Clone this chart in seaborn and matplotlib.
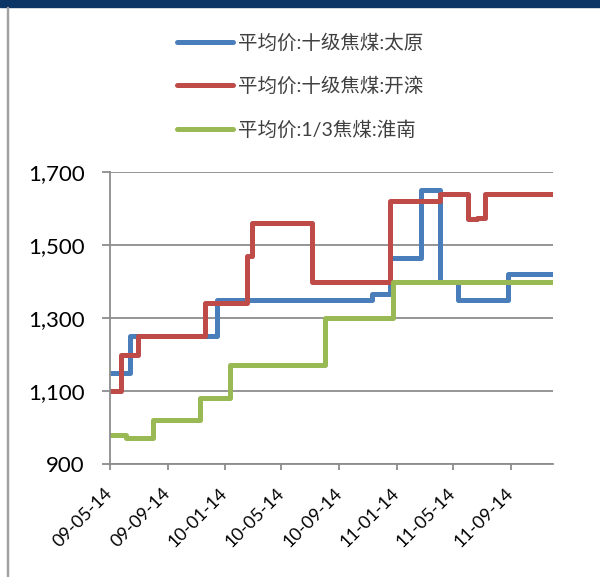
import pandas as pd
import matplotlib.pyplot as plt
import matplotlib.dates as mdates
import matplotlib.ticker as mticker
from matplotlib.patches import Rectangle
from matplotlib.lines import Line2D
import seaborn as sns

# step data: date where the price changes, and the new price
taiyuan_dates = ["2009-05-14", "2009-06-25", "2009-12-27", "2010-11-22", "2010-12-31",
                 "2011-03-07", "2011-04-17", "2011-05-25", "2011-09-09", "2011-12-13"]
taiyuan_vals = [1150, 1250, 1350, 1365, 1465, 1650, 1400, 1350, 1420, 1420]

kailuan_dates = ["2009-05-14", "2009-06-06", "2009-07-13", "2009-12-02", "2010-03-01",
                 "2010-03-12", "2010-07-17", "2010-12-31", "2011-04-17", "2011-06-14",
                 "2011-07-04", "2011-07-21", "2011-12-13"]
kailuan_vals = [1100, 1200, 1250, 1340, 1470, 1560, 1400, 1620, 1640, 1570, 1575, 1640, 1640]

huainan_dates = ["2009-05-14", "2009-06-18", "2009-08-14", "2009-11-21", "2010-01-24",
                 "2010-08-15", "2011-01-07", "2011-12-13"]
huainan_vals = [980, 970, 1020, 1080, 1170, 1300, 1400, 1400]

labels = ["平均价:十级焦煤:太原", "平均价:十级焦煤:开滦", "平均价:1/3焦煤:淮南"]
colors = ["#4A7EBB", "#BE4B48", "#98B954"]
tick_dates = ["2009-05-14", "2009-09-14", "2010-01-14", "2010-05-14",
              "2010-09-14", "2011-01-14", "2011-05-14", "2011-09-14"]
y_ticks = [900, 1100, 1300, 1500, 1700]

frames = []
for name, d, v in zip(labels, [taiyuan_dates, kailuan_dates, huainan_dates],
                      [taiyuan_vals, kailuan_vals, huainan_vals]):
    frames.append(pd.DataFrame({"date": pd.to_datetime(d), "price": v, "series": name}))
df = pd.concat(frames, ignore_index=True)

sns.set_style("white")
plt.rcParams["font.family"] = ["Lato", "Noto Sans CJK SC", "DejaVu Sans"]

fig = plt.figure(figsize=(6, 5.77), dpi=100)
ax = fig.add_axes([0.1833, 0.1958, 0.7384, 0.5061])

sns.lineplot(data=df, x="date", y="price", hue="series", palette=colors,
             drawstyle="steps-post", linewidth=3.6, legend=False, ax=ax,
             solid_joinstyle="round", solid_capstyle="round")

ax.set_xlim(pd.Timestamp("2009-05-14"), pd.Timestamp("2011-12-13"))
ax.set_ylim(900, 1700)
ax.set_yticks(y_ticks)
ax.yaxis.set_major_formatter(mticker.FuncFormatter(lambda v, p: f"{int(v):,}"))
ax.set_xticks(pd.to_datetime(tick_dates))
ax.xaxis.set_major_formatter(mdates.DateFormatter("%y-%m-%d"))
ax.set_xlabel("")
ax.set_ylabel("")

ax.grid(axis="y", color="#8C8C8C", linewidth=1.3)
ax.set_axisbelow(True)
for s in ["top", "right"]:
    ax.spines[s].set_visible(False)
for s in ["left", "bottom"]:
    ax.spines[s].set_color("#8C8C8C")
    ax.spines[s].set_linewidth(1.3)

ax.tick_params(axis="y", labelsize=16, colors="#8C8C8C", labelcolor="black",
               length=6, width=1.3, direction="out", left=True, pad=12)
ax.tick_params(axis="x", labelsize=13, colors="#8C8C8C", labelcolor="black",
               length=4.5, width=1.3, direction="out", bottom=True, pad=15)
for lab in ax.get_xticklabels():
    lab.set_rotation(45)
    lab.set_ha("right")
    lab.set_va("center")
    lab.set_rotation_mode("anchor")

handles = [Line2D([], [], color=c, linewidth=3.6, solid_capstyle="round") for c in colors]
fig.legend(handles, labels, loc="upper left", bbox_to_anchor=(0.266, 0.972),
           frameon=False, fontsize=14, handlelength=2.9, handletextpad=0.23,
           labelspacing=1.26, labelcolor="#404040")

# header strip and left frame line
fig.patches.append(Rectangle((0, 0.988), 1, 0.012, transform=fig.transFigure,
                             color="#0B3565", zorder=0))
fig.patches.append(Rectangle((0.011, 0), 0.003, 0.988, transform=fig.transFigure,
                             color="#A0A0A0", zorder=0))

fig.savefig("out.png", dpi=100)
